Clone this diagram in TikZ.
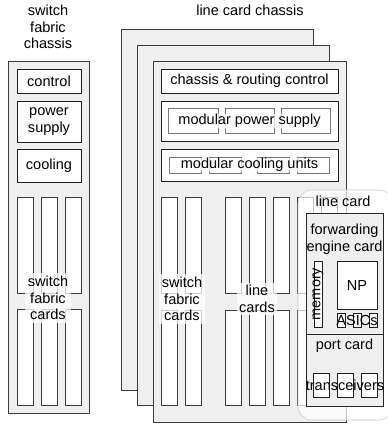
\documentclass[tikz,border=0pt]{standalone}
\usepackage{fontspec}
\setmainfont{Liberation Sans}
\usetikzlibrary{positioning}
\newcommand{\lblfont}{\fontsize{10.9}{12.4}\selectfont}

\tikzset{
  chassis/.style={draw={rgb, 255:red, 60; green, 60; blue, 60}, fill={rgb, 255:red, 239; green, 239; blue, 239}},
  unitbox/.style={draw={rgb, 255:red, 30; green, 30; blue, 30}, fill=white},
  slotbox/.style={draw={rgb, 255:red, 60; green, 60; blue, 60}, fill=white},
  subbox/.style={draw={rgb, 255:red, 120; green, 120; blue, 120}, fill=white},
  cardpanel/.style={draw={rgb, 255:red, 200; green, 200; blue, 200}, fill=white, fill opacity=0.7, rounded corners=10.5pt},
  txt/.style={inner sep=0.75pt, align=center, font=\lblfont},
  tag/.style={txt, inner sep=2pt, fill=white, fill opacity=0.75, text opacity=1},
}

\begin{document}
\begin{tikzpicture}[x=0.75pt,y=0.75pt,yscale=-1,xscale=1]
\useasboundingbox (0,0) rectangle (388,425);

%Shape: switch fabric chassis
\draw [chassis] (8,61) rectangle (89,413);
\draw [unitbox] (17,69) rectangle (81,93);
\draw [unitbox] (17,101) rectangle (81,142);
\draw [unitbox] (17,149) rectangle (81,182);
\foreach \x in {17,41,65} {
  \draw [slotbox] (\x,197) rectangle ++(16,96);
  \draw [slotbox] (\x,309) rectangle ++(16,96);
}

%Shape: line card chassis, back to front
\draw [chassis] (121,29) rectangle (313,390);
\draw [chassis] (137,45) rectangle (329,405);
\draw [chassis] (153,61) rectangle (346,422);

\draw [unitbox] (161,69) rectangle (338,93);
\draw [unitbox] (161,101) rectangle (338,141);
\draw [unitbox] (161,149) rectangle (338,181);
%modular power supplies
\foreach \x/\w in {168/50,225/49,281/49}
  \draw [subbox] (\x,108) rectangle ++(\w,25);
%modular cooling units
\foreach \x in {169,209,257,297}
  \draw [subbox] (\x,157) rectangle ++(32,16);

%switch fabric and line card slots
\foreach \x in {161,185,225,249,273,297,321} {
  \draw [slotbox] (\x,197) rectangle ++(16,96);
  \draw [slotbox] (\x,310) rectangle ++(16,95);
}

% Text Node
\draw (48,27) node [txt] (sfchassis) {switch\\fabric\\chassis};
% Text Node
\draw (250,10) node [txt] (lcchassis) {line card chassis};
% Text Node
\draw (49,81) node [txt] (ctrl) {control};
% Text Node
\draw (49,121.5) node [txt] (power) {power\\supply};
% Text Node
\draw (49,165.5) node [txt] (cool) {cooling};
% Text Node
\draw (48,298) node [tag] (sfcards) {switch\\fabric\\cards};

% Text Node
\draw (249.5,81) node [txt] (routing) {chassis \& routing control};
% Text Node
\draw (249.5,121) node [tag, inner sep=0.5pt] (modpower) {modular power supply};
% Text Node
\draw (249.5,165) node [tag, inner sep=0.5pt] (modcool) {modular cooling units};
% Text Node
\draw (182,299) node [tag] (lcsfcards) {switch\\fabric\\cards};
% Text Node
\draw (257,299) node [tag] (linecards) {line\\cards};

%Shape: line card
\draw [cardpanel] (298,190) rectangle (393,420);
\draw [chassis, draw={rgb, 255:red, 40; green, 40; blue, 40}] (306,213) rectangle (383,334);
\draw [chassis, draw={rgb, 255:red, 40; green, 40; blue, 40}] (306,334) rectangle (383,406);
\draw [unitbox] (314,261) rectangle (322,327);
\draw [unitbox] (337,261) rectangle (377,309);
\foreach \x in {337,353,369}
  \draw [unitbox] (\x,313) rectangle ++(8,14);
\foreach \x in {313,337,361}
  \draw [unitbox] (\x,373) rectangle ++(16,24);

% Text Node
\draw (343,201) node [txt] (lcard) {line card};
% Text Node
\draw (344.5,239) node [txt] (fwd) {forwarding\\engine card};
% Text Node
\draw (318,294) node [txt, rotate=90] (mem) {memory};
% Text Node
\draw (357,285) node [txt] (np) {NP};
% Text Node
\draw (357,320) node [txt] (asics) {ASICs};
% Text Node
\draw (344.5,346) node [txt] (port) {port card};
% Text Node
\draw (345,385) node [txt] (trx) {transceivers};

\end{tikzpicture}
\end{document}
